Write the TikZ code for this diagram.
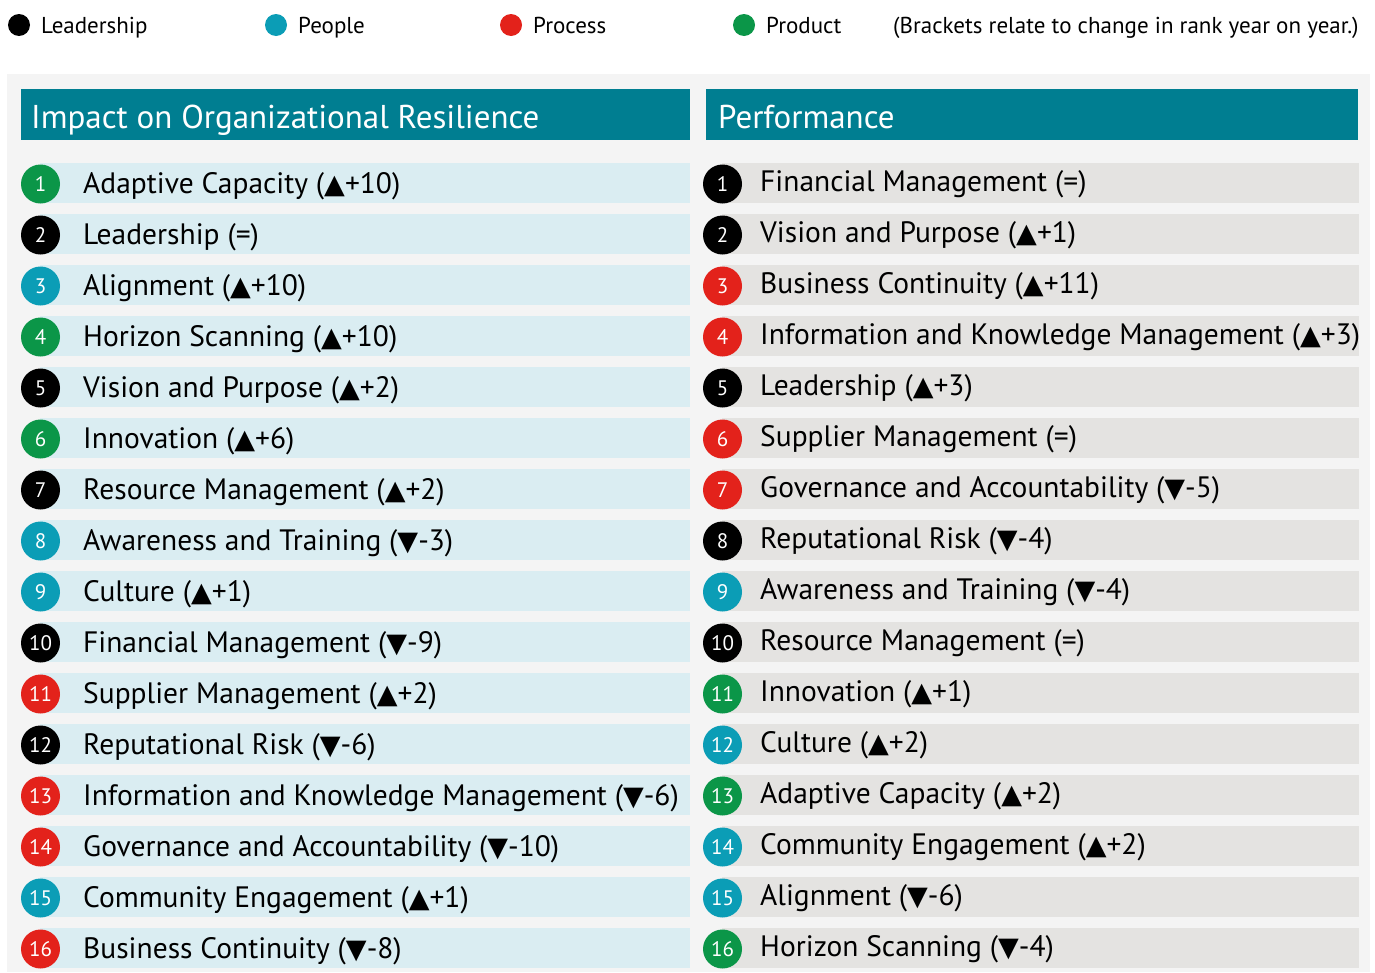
\documentclass[tikz,border=0pt]{standalone}
\usepackage{fontspec}
\setmainfont{PT Sans}
\newfontfamily\symfont{DejaVu Sans}
\usetikzlibrary{positioning}
\definecolor{lead}{HTML}{000000}
\definecolor{peop}{HTML}{0B9DB6}
\definecolor{proc}{HTML}{E3221B}
\definecolor{prod}{HTML}{0B9648}
\definecolor{hdr}{HTML}{007E91}
\definecolor{bandA}{HTML}{DAEDF2}
\definecolor{bandB}{HTML}{E4E3E1}
\definecolor{panel}{HTML}{F4F4F4}
\newcommand*{\up}{{\symfont\fontsize{27}{27}\selectfont ▲}}
\newcommand*{\dn}{{\symfont\fontsize{27}{27}\selectfont ▼}}

\begin{document}
\begin{tikzpicture}[x=1pt,y=-1pt,
  rank/.style={circle,minimum size=39pt,inner sep=0pt,text=white,
    font=\fontsize{21}{21}\selectfont},
  item/.style={anchor=base west,inner sep=0pt,
    font=\fontsize{29.5}{30}\selectfont},
  legdot/.style={circle,minimum size=22pt,inner sep=0pt},
  legtxt/.style={anchor=base west,inner sep=0pt,
    font=\fontsize{23}{23}\selectfont},
  hdrtxt/.style={anchor=base west,inner sep=0pt,text=white,
    font=\fontsize{33}{33}\selectfont}]
\useasboundingbox (0,0) rectangle (1375,972);
% Key of the four colours
\node[legdot,fill=lead] (kLead) at (19,25) {};
\node[legtxt] (tLead) at (41,33) {Leadership};
\node[legdot,fill=peop] (kPeop) at (276,25) {};
\node[legtxt] (tPeop) at (298,33) {People};
\node[legdot,fill=proc] (kProc) at (511,25) {};
\node[legtxt] (tProc) at (533,33) {Process};
\node[legdot,fill=prod] (kProd) at (744,25) {};
\node[legtxt] (tProd) at (766,33) {Product};
\node[legtxt] (note) at (893,33) {(Brackets relate to change in rank year on year.)};
% Grey panel and the two headers
\fill[panel] (7,74) rectangle (1370,972);
\fill[hdr] (21,89) rectangle (690,140);
\fill[hdr] (706,89) rectangle (1358,140);
\node[hdrtxt] (hdrA) at (31,128) {Impact on Organizational Resilience};
\node[hdrtxt] (hdrB) at (718,128) {Performance};
% Left list: resilience ranking
\foreach \n/\cc/\txt in {1/prod/{Adaptive Capacity (\up+10)},
    2/lead/{Leadership (=)},
    3/peop/{Alignment (\up+10)},
    4/prod/{Horizon Scanning (\up+10)},
    5/lead/{Vision and Purpose (\up+2)},
    6/prod/{Innovation (\up+6)},
    7/lead/{Resource Management (\up+2)},
    8/peop/{Awareness and Training (\dn-3)},
    9/peop/{Culture (\up+1)},
    10/lead/{Financial Management (\dn-9)},
    11/proc/{Supplier Management (\up+2)},
    12/lead/{Reputational Risk (\dn-6)},
    13/proc/{Information and Knowledge Management (\dn-6)},
    14/proc/{Governance and Accountability (\dn-10)},
    15/peop/{Community Engagement (\up+1)},
    16/proc/{Business Continuity (\dn-8)}}{
  \pgfmathsetmacro\yy{183+51*(\n-1)}
  \fill[bandA] (40,\yy-20) rectangle (690,\yy+20);
  \node[rank,fill=\cc] (la\n) at (40.5,\yy+1) {\n};
  \node[item] (ta\n) at (83,\yy+10) {\txt};
}
% Right list: performance ranking
\foreach \n/\cc/\txt in {1/lead/{Financial Management (=)},
    2/lead/{Vision and Purpose (\up+1)},
    3/proc/{Business Continuity (\up+11)},
    4/proc/{Information and Knowledge Management (\up+3)},
    5/lead/{Leadership (\up+3)},
    6/proc/{Supplier Management (=)},
    7/proc/{Governance and Accountability (\dn-5)},
    8/lead/{Reputational Risk (\dn-4)},
    9/peop/{Awareness and Training (\dn-4)},
    10/lead/{Resource Management (=)},
    11/prod/{Innovation (\up+1)},
    12/peop/{Culture (\up+2)},
    13/prod/{Adaptive Capacity (\up+2)},
    14/peop/{Community Engagement (\up+2)},
    15/peop/{Alignment (\dn-6)},
    16/prod/{Horizon Scanning (\dn-4)}}{
  \pgfmathsetmacro\yy{183+51*(\n-1)}
  \fill[bandB] (722,\yy-20) rectangle (1359,\yy+20);
  \node[rank,fill=\cc] (ra\n) at (722.5,\yy+1) {\n};
  \node[item] (tb\n) at (760,\yy+8) {\txt};
}
\end{tikzpicture}
\end{document}
